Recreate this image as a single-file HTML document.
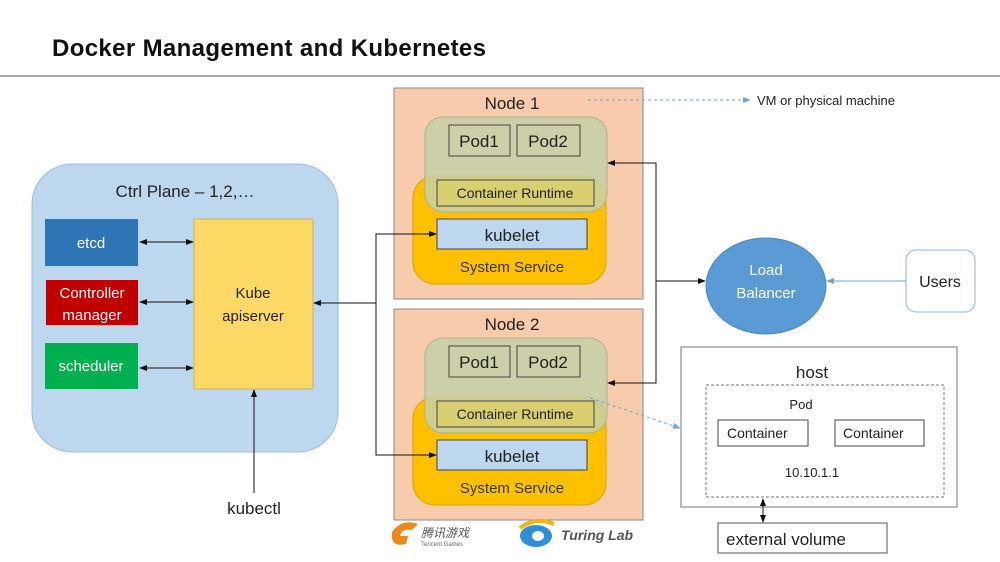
<!DOCTYPE html>
<html><head><meta charset="utf-8"><style>body{margin:0;background:#fff}svg{display:block}</style></head><body>
<svg width="1000" height="562" viewBox="0 0 1000 562" xmlns="http://www.w3.org/2000/svg" font-family="Liberation Sans, Noto Sans CJK SC, sans-serif">
<defs>
<marker id="a" markerWidth="8" markerHeight="8" refX="7" refY="4" orient="auto" markerUnits="userSpaceOnUse"><path d="M0,1 L8,4 L0,7z" fill="#111"/></marker>
<marker id="as" markerWidth="8" markerHeight="8" refX="1" refY="4" orient="auto" markerUnits="userSpaceOnUse"><path d="M8,1 L0,4 L8,7z" fill="#111"/></marker>
<marker id="b" markerWidth="8" markerHeight="8" refX="7" refY="4" orient="auto" markerUnits="userSpaceOnUse"><path d="M0,1 L8,4 L0,7z" fill="#6fa4d8"/></marker>
</defs>
<text x="52" y="56" font-size="24" font-weight="bold" textLength="434" fill="#111">Docker Management and Kubernetes</text>
<line x1="0" y1="76" x2="1000" y2="76" stroke="#888" stroke-width="1.5"/>

<!-- ctrl plane -->
<rect x="32" y="164" width="306" height="288" rx="40" fill="#bdd7ee" stroke="#9dbbd8"/>
<text x="185" y="197" font-size="17" text-anchor="middle" fill="#222">Ctrl Plane – 1,2,…</text>
<rect x="45" y="219" width="93" height="47" fill="#2e75b6"/>
<text x="91" y="248" font-size="15" fill="#fff" text-anchor="middle">etcd</text>
<rect x="46" y="280" width="92" height="45" fill="#c00000"/>
<text x="92" y="298" font-size="15" fill="#fff" text-anchor="middle">Controller</text>
<text x="92" y="320" font-size="15" fill="#fff" text-anchor="middle">manager</text>
<rect x="45" y="343" width="93" height="46" fill="#00b050"/>
<text x="91" y="371" font-size="15" fill="#fff" text-anchor="middle">scheduler</text>
<rect x="194" y="219" width="119" height="170" fill="#ffd966" stroke="#c9b26a"/>
<text x="253" y="298" font-size="15" text-anchor="middle" fill="#222">Kube</text>
<text x="253" y="321" font-size="15" text-anchor="middle" fill="#222">apiserver</text>
<text x="254" y="514" font-size="17" text-anchor="middle" fill="#222">kubectl</text>

<!-- nodes -->
<g id="n1">
<rect x="394" y="88" width="249" height="211" fill="#f8cbad" stroke="#8a8a8a"/>
<rect x="413" y="176" width="193" height="108" rx="22" fill="#ffc000" stroke="#d9a300"/>
<rect x="425" y="117" width="182" height="95" rx="18" fill="#c5d0a8" fill-opacity="0.85" stroke="#a9b58a"/>
<rect x="449" y="125" width="61" height="31" fill="none" stroke="#444"/>
<text x="479" y="147" font-size="17" text-anchor="middle" fill="#222">Pod1</text>
<rect x="517" y="125" width="63" height="31" fill="none" stroke="#444"/>
<text x="548" y="147" font-size="17" text-anchor="middle" fill="#222">Pod2</text>
<rect x="437" y="180" width="157" height="26" fill="#d8cf70" stroke="#444"/>
<text x="515" y="198" font-size="14" text-anchor="middle" fill="#222">Container Runtime</text>
<rect x="437" y="219" width="150" height="30" fill="#bdd7ee" stroke="#444"/>
<text x="512" y="241" font-size="17" text-anchor="middle" fill="#222">kubelet</text>
<text x="512" y="272" font-size="15" text-anchor="middle" fill="#333">System Service</text>
</g>
<use href="#n1" y="221"/>
<text x="512" y="109" font-size="17" text-anchor="middle" fill="#222">Node 1</text>
<text x="512" y="330" font-size="17" text-anchor="middle" fill="#222">Node 2</text>

<g stroke="#111" stroke-width="1" fill="none">
<line x1="140" y1="242" x2="193" y2="242" marker-start="url(#as)" marker-end="url(#a)"/>
<line x1="140" y1="302" x2="193" y2="302" marker-start="url(#as)" marker-end="url(#a)"/>
<line x1="140" y1="368" x2="193" y2="368" marker-start="url(#as)" marker-end="url(#a)"/>
<line x1="254" y1="493" x2="254" y2="390" marker-end="url(#a)"/>
<polyline points="436,234 376,234 376,455 436,455"/>
<line x1="376" y1="303" x2="314" y2="303" marker-end="url(#a)"/>
<line x1="420" y1="234" x2="436" y2="234" marker-end="url(#a)"/>
<line x1="420" y1="455" x2="436" y2="455" marker-end="url(#a)"/>
<polyline points="608,163 656,163 656,383 608,383"/>
<line x1="620" y1="163" x2="608" y2="163" marker-end="url(#a)"/>
<line x1="620" y1="383" x2="608" y2="383" marker-end="url(#a)"/>
<line x1="656" y1="281" x2="705" y2="281" marker-end="url(#a)"/>
</g>
<line x1="588" y1="100" x2="750" y2="100" stroke="#6fa4d8" stroke-dasharray="3,3" marker-end="url(#b)"/>
<text x="757" y="105" font-size="13" fill="#222">VM or physical machine</text>
<line x1="590" y1="398" x2="680" y2="428" stroke="#6fa4d8" stroke-dasharray="3,3" marker-end="url(#b)"/>

<!-- LB -->
<ellipse cx="766" cy="286" rx="60" ry="48" fill="#5b9bd5" stroke="#4a88c2"/>
<text x="766" y="275" font-size="15" fill="#fff" text-anchor="middle">Load</text>
<text x="766" y="298" font-size="15" fill="#fff" text-anchor="middle">Balancer</text>
<rect x="906" y="250" width="69" height="62" rx="10" fill="#fff" stroke="#8fb3d6"/>
<text x="940" y="287" font-size="16" text-anchor="middle" fill="#222">Users</text>
<line x1="906" y1="281" x2="827" y2="281" stroke="#6fa4d8" marker-end="url(#b)"/>

<!-- host -->
<rect x="681" y="347" width="276" height="160" fill="#fff" stroke="#777"/>
<text x="812" y="378" font-size="17" text-anchor="middle" fill="#222">host</text>
<rect x="706" y="385" width="238" height="112" fill="none" stroke="#777" stroke-dasharray="3,2"/>
<text x="801" y="409" font-size="13" text-anchor="middle" fill="#222">Pod</text>
<rect x="718" y="420" width="90" height="26" fill="none" stroke="#444"/>
<text x="727" y="438" font-size="14" fill="#222">Container</text>
<rect x="835" y="420" width="89" height="26" fill="none" stroke="#444"/>
<text x="843" y="438" font-size="14" fill="#222">Container</text>
<text x="812" y="477" font-size="13" text-anchor="middle" fill="#222">10.10.1.1</text>
<rect x="718" y="523" width="169" height="30" fill="#fff" stroke="#555"/>
<text x="726" y="545" font-size="17" fill="#222">external volume</text>
<line x1="763" y1="499" x2="763" y2="522" stroke="#111" marker-start="url(#as)" marker-end="url(#a)"/>

<!-- logos -->
<path d="M392,532 q10,-14 26,-8 l-6,6 q-10,-2 -12,6 l8,0 l-2,8 q-16,4 -14,-12z" fill="#e98a1c"/>
<text x="421" y="537" font-size="12" font-style="italic" fill="#555">腾讯游戏</text>
<text x="421" y="546" font-size="6" fill="#666">Tencent Games</text>
<ellipse cx="536" cy="536" rx="16" ry="11" fill="#2f8fd6"/>
<ellipse cx="538" cy="536" rx="6" ry="5" fill="#fff"/>
<path d="M520,528 q16,-12 34,-4" stroke="#f2b21b" stroke-width="4" fill="none"/>
<text x="561" y="540" font-size="14" font-style="italic" font-weight="bold" fill="#555">Turing Lab</text>
</svg>
</body></html>
